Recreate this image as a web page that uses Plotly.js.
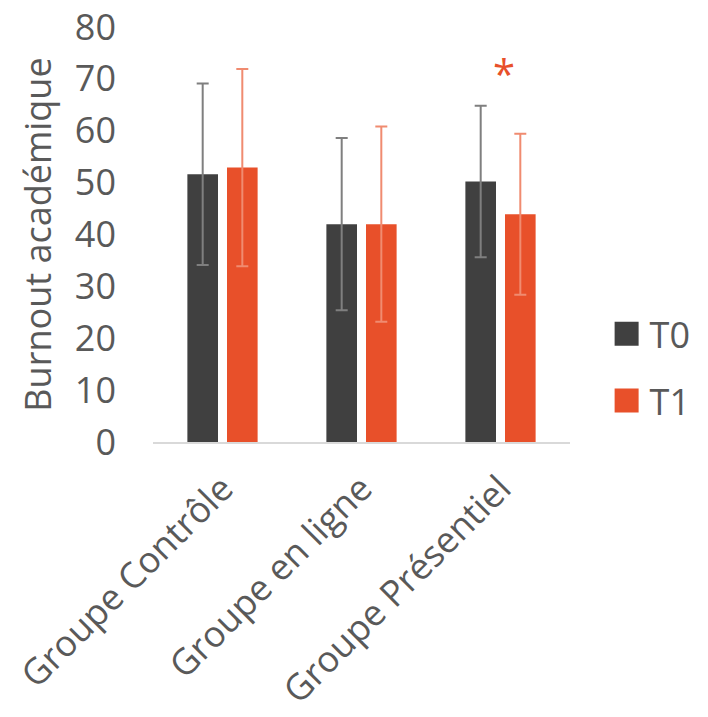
<!DOCTYPE html>
<html>
<head>
<meta charset="utf-8">
<script src="https://cdn.plot.ly/plotly-3.0.1.min.js"></script>
<style>html,body{margin:0;padding:0;background:#fff;}#chart{width:708px;height:717px;}</style>
</head>
<body>
<div id="chart"></div>
<script>
// Data
var categories = ['Groupe Contrôle', 'Groupe en ligne', 'Groupe Présentiel'];
var seriesNames = ['T0', 'T1'];
var t0Mean = [51.6, 42.0, 50.2];
var t0Sd = [17.5, 16.6, 14.6];
var t1Mean = [52.9, 42.0, 43.9];
var t1Sd = [19.0, 18.8, 15.5];
var yTicks = [0, 10, 20, 30, 40, 50, 60, 70, 80];
var sigCategory = 'Groupe Présentiel';
var sigLabel = '*';
var sigLevel = 71;

var FONT = 'Open Sans, Noto Sans, sans-serif';
var TXT = '#595959';

var traces = [
  {
    type: 'bar', name: seriesNames[0], x: categories, y: t0Mean,
    marker: {color: '#404040'},
    error_y: {type: 'data', array: t0Sd, visible: true, color: '#7f7f7f', thickness: 2, width: 6},
    legendgroup: 'a'
  },
  {
    type: 'bar', name: seriesNames[1], x: categories, y: t1Mean,
    marker: {color: '#E8502A'},
    error_y: {type: 'data', array: t1Sd, visible: true, color: '#F08B70', thickness: 2, width: 6},
    legendgroup: 'b'
  }
];

var layout = {
  width: 708, height: 717,
  margin: {l: 153, r: 138, t: 27, b: 275},
  paper_bgcolor: '#ffffff', plot_bgcolor: '#ffffff',
  font: {family: FONT, size: 36, color: TXT},
  barmode: 'group', bargap: 0.43, bargroupgap: 0.227,
  showlegend: true,
  legend: {
    x: 1.095, xanchor: 'left', y: 0.18, yanchor: 'middle',
    font: {family: FONT, size: 36, color: TXT},
    traceorder: 'grouped', tracegroupgap: 17,
    bgcolor: 'rgba(0,0,0,0)'
  },
  xaxis: {
    type: 'category', tickangle: -45,
    tickfont: {family: FONT, size: 36, color: TXT},
    ticklabelstandoff: 9,
    showline: true, linecolor: '#D9D9D9', linewidth: 2,
    showgrid: false, zeroline: false, ticks: ''
  },
  yaxis: {
    range: [0, 80], tickvals: yTicks, ticktext: yTicks.map(String),
    tickfont: {family: FONT, size: 36, color: TXT},
    showgrid: false, zeroline: false, showline: false, ticks: '',
    ticklabelstandoff: 36,
    title: {text: 'Burnout académique', font: {family: FONT, size: 36, color: TXT}, standoff: 12}
  },
  annotations: [{
    x: sigCategory, y: sigLevel, xref: 'x', yref: 'y', text: sigLabel,
    showarrow: false, xshift: 3, yanchor: 'middle',
    font: {family: FONT, size: 40, color: '#E8502A'}
  }]
};

Plotly.newPlot('chart', traces, layout, {displayModeBar: false, staticPlot: true}).then(function () {
  document.querySelectorAll('.legendpoints path').forEach(function (p) {
    p.removeAttribute('transform');
    p.setAttribute('d', 'M29,12H5V-12H29Z');
  });
});
</script>
</body>
</html>
